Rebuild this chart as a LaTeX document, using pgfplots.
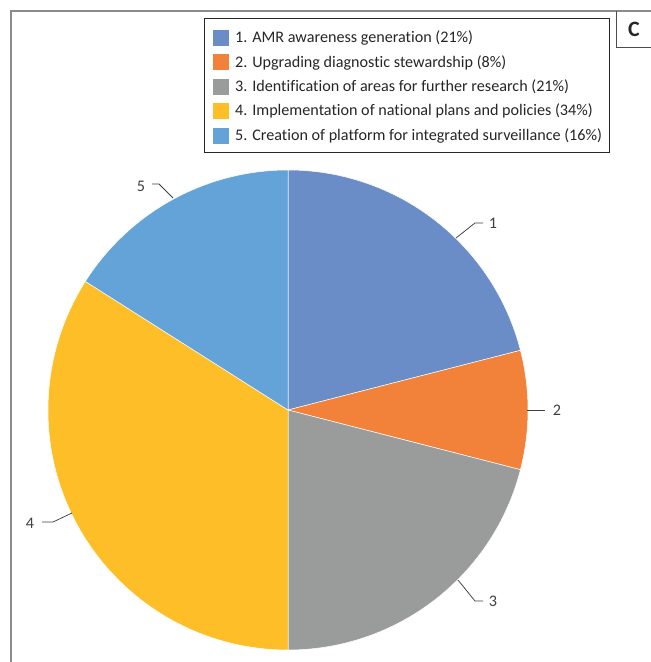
\documentclass[border=0pt]{standalone}
\usepackage{pgfplots}
\pgfplotsset{compat=1.18}
\usepackage{pgfplotstable}
\usepackage{fontspec}
\setmainfont{Carlito}[Ligatures=NoCommon]

\definecolor{pie0}{HTML}{6A8CC7}
\definecolor{pie1}{HTML}{F2823A}
\definecolor{pie2}{HTML}{999C9B}
\definecolor{pie3}{HTML}{FDBE28}
\definecolor{pie4}{HTML}{64A3D8}
\definecolor{frame}{HTML}{8C8C8C}
\definecolor{leader}{HTML}{404040}

% shares of the five actions (percent)
\pgfplotstableread{
id pct
1  21
2  8
3  21
4  34
5  16
}\piedata

% start and end angle of each slice, clockwise from 12 o'clock
\def\cum{90}
\pgfplotsforeachungrouped \i in {0,...,4}{%
  \pgfplotstablegetelem{\i}{pct}\of\piedata
  \pgfmathsetmacro\endang{\cum-3.6*\pgfplotsretval}%
  \expandafter\xdef\csname sa\i\endcsname{\cum}%
  \expandafter\xdef\csname ea\i\endcsname{\endang}%
  \xdef\cum{\endang}%
}

\begin{document}
\begin{tikzpicture}[font=\fontsize{16.2}{19}\selectfont]
\begin{axis}[
  x=1bp, y=1bp,
  xmin=0, xmax=651, ymin=0, ymax=662,
  enlargelimits=false,
  hide axis,
  clip=false,
]
% background
\fill[white] (axis cs:0,0) rectangle (axis cs:651,662);

% pie slices
\pgfplotsinvokeforeach{0,...,4}{
  \fill[pie#1, draw=white, line width=0.5bp]
    (axis cs:288,252) -- ++({\csname sa#1\endcsname}:240bp)
    arc[start angle={\csname sa#1\endcsname}, end angle={\csname ea#1\endcsname}, radius=240bp]
    -- cycle;
}

% leader lines and slice numbers
\begin{scope}[draw=leader, line width=0.75bp]
\draw (axis cs:456,424) -- (axis cs:475,439) -- (axis cs:483,439);
\draw (axis cs:527,252) -- (axis cs:545,252);
\draw (axis cs:458,82) -- (axis cs:475,61) -- (axis cs:483,61);
\draw (axis cs:72,149) -- (axis cs:53,140) -- (axis cs:42,140);
\draw (axis cs:173,464) -- (axis cs:159,478) -- (axis cs:152,478);
\end{scope}
\node[text=leader] at (axis cs:493,439) {1};
\node[text=leader] at (axis cs:557,252) {2};
\node[text=leader] at (axis cs:493,61) {3};
\node[text=leader] at (axis cs:30,139) {4};
\node[text=leader] at (axis cs:141,476) {5};

% outer frame
\draw[frame, line width=1.2bp] (axis cs:11,0) -- (axis cs:11,651) -- (axis cs:651,651);
% panel letter
\draw[black!70, line width=1bp] (axis cs:616,651) -- (axis cs:616,614) -- (axis cs:651,614);
\node[font=\fontsize{22}{26}\selectfont\bfseries, text=black!85] at (axis cs:634,633) {C};

% legend
\draw[black!85, line width=1bp] (axis cs:204,643) rectangle (axis cs:609,509);
\fill[pie0] (axis cs:213,616) rectangle (axis cs:229,632);
\fill[pie1] (axis cs:213,591.5) rectangle (axis cs:229,607.5);
\fill[pie2] (axis cs:213,567) rectangle (axis cs:229,583);
\fill[pie3] (axis cs:213,543) rectangle (axis cs:229,559);
\fill[pie4] (axis cs:213,518) rectangle (axis cs:229,534);
\begin{scope}[every node/.style={anchor=west, inner sep=0pt, text=black!85}]
\node at (axis cs:235,624) {1. AMR awareness generation (21\%)};
\node at (axis cs:235,599.5) {2. Upgrading diagnostic stewardship (8\%)};
\node at (axis cs:235,575) {3. Identification of areas for further research (21\%)};
\node at (axis cs:235,551) {4. Implementation of national plans and policies (34\%)};
\node at (axis cs:235,526) {5. Creation of platform for integrated surveillance (16\%)};
\end{scope}
\end{axis}
\pgfresetboundingbox
\path (0,0) rectangle (651bp,662bp);
\end{tikzpicture}
\end{document}
